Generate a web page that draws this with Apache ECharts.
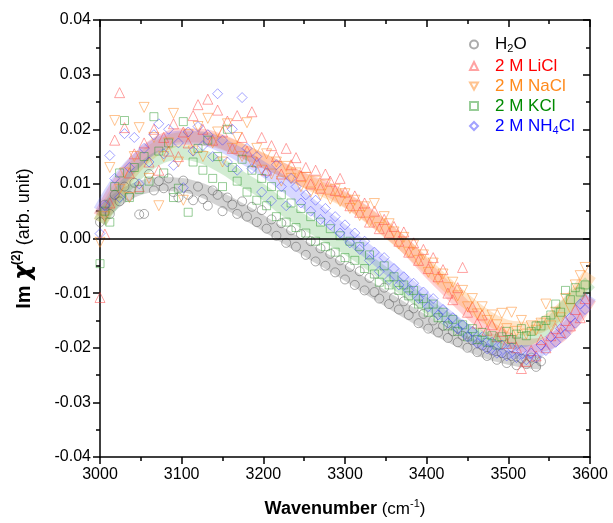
<!DOCTYPE html>
<html>
<head>
<meta charset="utf-8">
<script src="https://cdn.jsdelivr.net/npm/echarts@6/dist/echarts.min.js"></script>
<style>html,body{margin:0;padding:0;background:#fff;}#c{width:613px;height:523px;}</style>
</head>
<body>
<div id="c"></div>
<script>
const wavenumber = [
 3000,3006,3012,3018,3024,3030,3036,3042,3048,3054,
 3060,3066,3072,3078,3084,3090,3096,3102,3108,3114,
 3120,3126,3132,3138,3144,3150,3156,3162,3168,3174,
 3180,3186,3192,3198,3204,3210,3216,3222,3228,3234,
 3240,3246,3252,3258,3264,3270,3276,3282,3288,3294,
 3300,3306,3312,3318,3324,3330,3336,3342,3348,3354,
 3360,3366,3372,3378,3384,3390,3396,3402,3408,3414,
 3420,3426,3432,3438,3444,3450,3456,3462,3468,3474,
 3480,3486,3492,3498,3504,3510,3516,3522,3528,3534,
 3540,3546,3552,3558,3564,3570,3576,3582,3588,3594];

const h2o = [
 .0030,.0062,.0045,.0080,.0068,.0095,.0078,.0102,.0044,.0045,
 .0118,.0088,.0105,.0092,.0110,.0085,.0075,.0106,.0080,.0070,
 .0095,.0072,.0060,.0088,.0080,.0050,.0075,.0062,.0045,.0068,
 .0040,.0058,.0030,.0052,.0018,.0035,.0005,.0028,-.0008,.0015,
 -.0015,.0008,-.0030,-.0005,-.0042,-.0018,-.0050,-.0028,-.0062,-.0040,
 -.0075,-.0052,-.0085,-.0060,-.0095,-.0072,-.0098,-.0110,-.0090,-.0120,
 -.0108,-.0130,-.0115,-.0140,-.0128,-.0155,-.0138,-.0165,-.0150,-.0172,
 -.0160,-.0182,-.0170,-.0190,-.0178,-.0200,-.0186,-.0208,-.0196,-.0215,
 -.0205,-.0222,-.0210,-.0228,-.0215,-.0232,-.0220,-.0230,-.0218,-.0235,
 -.0225,null,null,null,null,null,null,null,null,null];

const licl = [
 -.0108,.0008,.0065,.0180,.0267,.0203,.0120,.0155,.0095,.0175,
 .0140,.0200,.0125,.0185,.0160,.0210,.0150,.0195,.0175,.0225,
 .0245,.0200,.0255,.0180,.0235,.0195,.0215,.0165,.0225,.0185,
 .0160,.0232,.0140,.0185,.0125,.0170,.0150,.0118,.0165,.0135,
 .0148,.0115,.0130,.0100,.0125,.0092,.0118,.0105,.0088,.0110,
 .0085,.0060,.0078,.0048,.0065,.0030,.0050,.0018,.0035,.0010,
 .0022,-.0005,.0012,-.0025,-.0008,-.0040,-.0020,-.0055,-.0035,-.0070,
 -.0057,-.0100,-.0112,-.0090,-.0053,-.0135,-.0125,-.0155,-.0140,-.0168,
 -.0158,-.0180,-.0170,-.0192,-.0182,-.0200,-.0238,-.0225,-.0205,-.0215,
 -.0185,-.0200,-.0178,-.0165,-.0172,-.0150,-.0160,-.0130,-.0145,-.0110];

const nacl = [
 -.0007,.0040,.0130,.0216,.0090,.0120,.0075,.0150,.0203,.0240,
 .0110,.0185,.0060,.0150,.0175,.0229,.0140,.0070,.0190,.0160,
 .0205,.0150,.0220,.0175,.0195,.0140,.0210,.0165,.0185,.0150,
 .0212,.0140,.0165,.0125,.0155,.0118,.0140,.0105,.0132,.0110,
 .0120,.0095,.0112,.0085,.0105,.0080,.0098,.0072,.0090,.0068,
 .0082,.0055,.0070,.0042,.0058,.0030,.0064,.0020,.0040,.0027,
 .0012,-.0010,.0002,-.0025,-.0012,-.0040,-.0030,-.0062,-.0045,-.0075,
 -.0065,-.0090,-.0080,-.0105,-.0095,-.0125,-.0110,-.0138,-.0125,-.0150,
 -.0140,-.0158,-.0137,-.0165,-.0135,-.0170,-.0150,-.0175,-.0160,-.0168,
 -.0155,-.0120,-.0160,-.0135,-.0145,-.0110,-.0128,-.0085,-.0068,-.0053];

const kcl = [
 -.0046,.0050,.0030,.0095,.0120,.0216,.0075,.0130,.0090,.0150,
 .0105,.0223,.0160,.0120,.0175,.0075,.0092,.0214,.0048,.0140,
 .0165,.0125,.0180,.0110,.0150,.0095,.0200,.0130,.0105,.0145,
 .0085,.0125,.0070,.0110,.0060,.0095,.0040,.0080,.0030,.0065,
 .0020,.0055,.0010,.0040,-.0005,.0030,-.0015,.0018,-.0025,.0005,
 -.0035,-.0005,-.0040,-.0015,-.0055,-.0030,-.0065,-.0080,-.0050,-.0085,
 -.0070,-.0095,-.0085,-.0105,-.0095,-.0120,-.0110,-.0135,-.0120,-.0145,
 -.0135,-.0160,-.0148,-.0170,-.0158,-.0180,-.0165,-.0185,-.0172,-.0190,
 -.0178,-.0195,-.0180,-.0170,-.0185,-.0175,-.0165,-.0178,-.0170,-.0160,
 -.0160,-.0150,-.0140,-.0120,-.0135,-.0095,-.0112,-.0090,-.0098,-.0085];

const nh4cl = [
 .0009,.0060,.0152,.0110,.0075,.0192,.0130,.0185,.0100,.0165,
 .0140,.0190,.0210,.0155,.0200,.0134,.0175,.0093,.0195,.0160,
 .0205,.0170,.0190,.0150,.0265,.0180,.0140,.0200,.0125,.0258,
 .0165,.0128,.0150,.0085,.0120,.0069,.0135,.0095,.0060,.0110,
 .0095,.0065,.0080,.0050,.0070,.0035,.0055,.0025,.0040,.0010,
 .0025,-.0008,.0010,-.0020,-.0005,-.0040,-.0025,-.0060,-.0035,-.0075,
 -.0055,-.0085,-.0070,-.0095,-.0082,-.0110,-.0098,-.0125,-.0110,-.0140,
 -.0130,-.0155,-.0145,-.0165,-.0158,-.0180,-.0170,-.0192,-.0180,-.0202,
 -.0190,-.0210,-.0195,-.0215,-.0200,-.0218,-.0205,-.0222,-.0210,-.0218,
 -.0195,-.0205,-.0180,-.0190,-.0165,-.0175,-.0145,-.0155,-.0120,-.0130];

// fitted curves (band centres)
const fitWn = [3000,3025,3050,3075,3100,3125,3150,3175,3200,3225,3250,3275,3300,3325,3350,3375,3400,3425,3450,3475,3500,3525,3550,3575,3600];
const fitWnH2O = [3000,3025,3050,3075,3100,3125,3150,3175,3200,3225,3250,3275,3300,3325,3350,3375,3400,3425,3450,3475,3500,3525,3540];
const fitH2O  = [.0040,.0075,.0093,.0100,.0098,.0088,.0070,.0050,.0028,.0005,-.0018,-.0040,-.0063,-.0087,-.0110,-.0133,-.0155,-.0175,-.0193,-.0208,-.0218,-.0225,-.0227];
const fitLiCl = [.0040,.0105,.0150,.0178,.0189,.0188,.0177,.0160,.0142,.0125,.0107,.0093,.0072,.0047,.0018,-.0015,-.0055,-.0093,-.0130,-.0162,-.0185,-.0196,-.0190,-.0160,-.0108];
const fitNaCl = [.0030,.0095,.0142,.0170,.0182,.0183,.0175,.0160,.0143,.0125,.0106,.0088,.0070,.0045,.0016,-.0015,-.0050,-.0085,-.0117,-.0145,-.0162,-.0165,-.0150,-.0115,-.0065];
const fitKCl  = [.0030,.0085,.0125,.0150,.0157,.0150,.0132,.0108,.0085,.0055,.0030,.0008,-.0015,-.0040,-.0067,-.0095,-.0123,-.0148,-.0170,-.0185,-.0190,-.0183,-.0158,-.0118,-.0080];
const fitNH4Cl= [.0050,.0110,.0150,.0175,.0185,.0183,.0170,.0150,.0127,.0100,.0070,.0040,.0010,-.0020,-.0050,-.0082,-.0113,-.0143,-.0172,-.0195,-.0207,-.0208,-.0192,-.0155,-.0105];

const xTicks = [3000,3100,3200,3300,3400,3500,3600];
const yTicks = ['-0.04','-0.03','-0.02','-0.01','0.00','0.01','0.02','0.03','0.04'];
const seriesNames = ['H2O','2 M LiCl','2 M NaCl','2 M KCl','2 M NH4Cl'];

const FONT = '"Liberation Sans", Arial, sans-serif';
function pairs(xs, ys){ return xs.map((x,i)=>[x, ys[i]]).filter(p=>p[1]!==null); }

const markerStyle = [
 {sym:'circle', size:9, c:'rgba(85,85,85,0.62)'},
 {sym:'triangle', size:10, c:'rgba(255,60,60,0.6)'},
 {sym:'path://M0,0L10,0L5,9Z', size:10, c:'rgba(255,140,40,0.65)'},
 {sym:'rect', size:8, c:'rgba(40,150,40,0.6)'},
 {sym:'diamond', size:10, c:'rgba(60,60,255,0.6)'}
];
const bandColors = ['rgba(140,140,140,0.38)','rgba(255,90,90,0.28)','rgba(255,170,80,0.32)','rgba(80,180,80,0.26)','rgba(90,90,255,0.24)'];
const values = [h2o, licl, nacl, kcl, nh4cl];
const fits = [[fitWnH2O,fitH2O],[fitWn,fitLiCl],[fitWn,fitNaCl],[fitWn,fitKCl],[fitWn,fitNH4Cl]];

const series = [];
fits.forEach((f,i)=>{
  series.push({type:'line', name:seriesNames[i]+' fit', data:pairs(f[0],f[1]), smooth:0.4, showSymbol:false, silent:true, z:1,
    lineStyle:{width:14, color:bandColors[i]}});
});
values.forEach((v,i)=>{
  const m = markerStyle[i];
  const s = {type:'scatter', name:seriesNames[i], data:pairs(wavenumber, v), symbol:m.sym, symbolSize:m.size, z:3,
    itemStyle:{color:'rgba(0,0,0,0)', borderColor:m.c, borderWidth:1}};
  if(i===0){
    s.markLine = {silent:true, symbol:'none', label:{show:false}, lineStyle:{color:'#000', type:'solid', width:1.5}, data:[{yAxis:0}]};
  }
  series.push(s);
});

const legendFmt = {
 'H2O':'{k0|H}{ks|2}{k|O}',
 '2 M LiCl':'{r|2 M LiCl}',
 '2 M NaCl':'{o|2 M NaCl}',
 '2 M KCl':'{g|2 M KCl}',
 '2 M NH4Cl':'{b|2 M NH}{bs|4}{b2|Cl}'
};
const PADL = 12;
function main(c, pad){ return {color:c, fontSize:17, lineHeight:20, fontFamily:FONT, padding:[0,0,0,pad||0]}; }
function sub(c){ return {color:c, fontSize:11, lineHeight:12, verticalAlign:'bottom', fontFamily:FONT}; }

const axisBase = {
  axisLine:{onZero:false, lineStyle:{color:'#000', width:1.5}},
  splitLine:{show:false}
};

const option = {
  animation:false,
  backgroundColor:'#fff',
  grid:{left:100, right:23, top:20, bottom:66},
  legend:{
    orient:'vertical', left:464, top:31, itemWidth:8, itemHeight:8, itemGap:3,
    data:seriesNames, selectedMode:false,
    formatter:n=>legendFmt[n],
    textStyle:{fontSize:17, fontFamily:FONT, rich:{
      k0:main('#000',PADL), k:main('#000'), ks:sub('#000'),
      r:main('#ff0000',PADL), o:main('#ff8a1c',PADL), g:main('#008a00',PADL),
      b:main('#0000ff',PADL), b2:main('#0000ff'), bs:sub('#0000ff')}}
  },
  xAxis:[
    Object.assign({}, axisBase, {type:'value', min:3000, max:3600, interval:100, position:'bottom',
      axisTick:{length:7, lineStyle:{color:'#000', width:1.5}},
      minorTick:{show:true, splitNumber:2, length:4, lineStyle:{color:'#000', width:1.5}},
      axisLabel:{fontSize:16, color:'#000', margin:10, fontFamily:FONT, formatter:v=>String(xTicks[xTicks.indexOf(Math.round(v))] ?? v)},
      name:'{bb|Wavenumber}{n| (cm}{sup|-1}{n|)}', nameLocation:'middle', nameGap:41,
      nameTextStyle:{rich:{
        bb:{fontSize:18, fontWeight:'bold', color:'#000', lineHeight:22, fontFamily:FONT},
        n:{fontSize:17, color:'#000', lineHeight:22, fontFamily:FONT},
        sup:{fontSize:11, color:'#000', lineHeight:11, verticalAlign:'top', fontFamily:FONT}}}
    }),
    Object.assign({}, axisBase, {type:'value', min:3000, max:3600, interval:100, position:'top',
      axisTick:{inside:true, length:7, lineStyle:{color:'#000', width:1.5}},
      minorTick:{show:true, splitNumber:2, length:4, lineStyle:{color:'#000', width:1.5}},
      axisLabel:{show:false}})
  ],
  yAxis:[
    Object.assign({}, axisBase, {type:'value', min:-0.04, max:0.04, interval:0.01, position:'left',
      axisTick:{length:7, lineStyle:{color:'#000', width:1.5}},
      minorTick:{show:true, splitNumber:2, length:4, lineStyle:{color:'#000', width:1.5}},
      axisLabel:{fontSize:16, color:'#000', margin:9, fontFamily:FONT, formatter:v=>yTicks[Math.round(v*100)+4]},
      name:'{bb|Im }{chi|χ}{sup|(2)}{n| (arb. unit)}', nameLocation:'middle', nameGap:63, nameRotate:90,
      nameTextStyle:{rich:{
        bb:{fontSize:20, fontWeight:'bold', color:'#000', lineHeight:26, fontFamily:FONT},
        chi:{fontSize:23, fontWeight:'bold', fontStyle:'italic', color:'#000', lineHeight:26, fontFamily:'"DejaVu Sans", sans-serif'},
        n:{fontSize:18, color:'#000', lineHeight:26, fontFamily:FONT},
        sup:{fontSize:12, fontWeight:'bold', color:'#000', lineHeight:12, verticalAlign:'top', fontFamily:FONT}}}
    }),
    Object.assign({}, axisBase, {type:'value', min:-0.04, max:0.04, interval:0.01, position:'right',
      axisTick:{inside:true, length:7, lineStyle:{color:'#000', width:1.5}},
      minorTick:{show:true, splitNumber:2, length:4, lineStyle:{color:'#000', width:1.5}},
      axisLabel:{show:false}})
  ],
  series:series
};

const chart = echarts.init(document.getElementById('c'), null, {renderer:'canvas'});
chart.setOption(option);
</script>
</body>
</html>
